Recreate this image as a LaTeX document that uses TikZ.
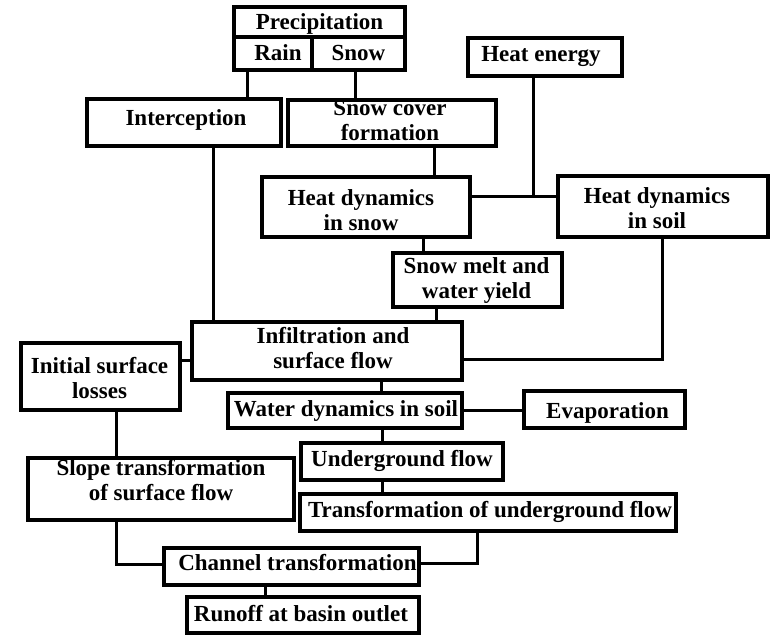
\documentclass[tikz,border=0pt]{standalone}
\usepackage{fontspec}
\setmainfont{Liberation Serif}
\tikzset{
  boxframe/.style={draw, line width=3.5pt, inner sep=0pt, outer sep=0pt},
  boxtext/.style={inner sep=0pt, outer sep=0pt, align=center,
    font=\fontsize{23}{25}\selectfont\bfseries},
  conn/.style={line width=3pt}
}
% name, x1, y1, x2, y2, dx, dy, text
\newcommand\mkbox[8]{%
  \node[boxframe, minimum width={#4-#2}, minimum height={#5-#3}] (#1) at ({(#2+#4)/2},{(#3+#5)/2}) {};
  \node[boxtext] (#1-t) at ([xshift=#6pt,yshift=-#7pt]#1.center) {#8};}
\begin{document}
\begin{tikzpicture}[x=1pt,y=-1pt]
\fill[white] (0,0) rectangle (771,635);
\useasboundingbox (0,0) rectangle (771,635);
\mkbox{prectop}{234}{7}{405}{37}{0}{2}{Precipitation}
\mkbox{rain}{234}{37}{312}{70}{5}{-1}{Rain}
\mkbox{snow}{312}{37}{405}{70}{0}{-1}{Snow}
\mkbox{icp}{87}{99}{281}{146}{2}{-3}{Interception}
\mkbox{scf}{288}{100}{496}{146}{-2}{-3}{Snow cover\\formation}
\mkbox{he}{468}{38}{622}{76}{-4}{0}{Heat energy}
\mkbox{hdsn}{262}{177}{470}{237}{-5}{3}{Heat dynamics\\in snow}
\mkbox{hdso}{558}{176}{768}{237}{-6}{1.5}{Heat dynamics\\in soil}
\mkbox{smw}{393}{253}{562}{307}{-1}{0}{Snow melt and\\water yield}
\mkbox{inf}{192}{322}{462}{380}{6}{-3}{Infiltration and\\surface flow}
\mkbox{isl}{21}{343}{180}{410}{-1}{1.5}{Initial surface\\losses}
\mkbox{wds}{228}{393}{462}{428}{1}{0}{Water dynamics in soil}
\mkbox{evp}{524}{391}{685}{428}{3}{3}{Evaporation}
\mkbox{ugf}{301}{443}{503}{480}{0}{-1}{Underground flow}
\mkbox{tuf}{300}{494}{676}{531}{2}{-1}{Transformation of underground flow}
\mkbox{stf}{28}{458}{294}{520}{0}{-9}{Slope transformation\\of surface flow}
\mkbox{cht}{164}{548}{419}{585}{6}{-3.5}{Channel transformation}
\mkbox{rbo}{187}{597}{419}{633}{-2}{-1}{Runoff at basin outlet}
% connectors
\draw[conn] (rain.south -| 247,0) -- (icp.north -| 247,0);
\draw[conn] (snow.south -| 355,0) -- (scf.north -| 355,0);
\draw[conn] (icp.south -| 213,0) -- (inf.north -| 213,0);
\draw[conn] (scf.south -| 434,0) -- (hdsn.north -| 434,0);
\coordinate (j) at (533,196);
\draw[conn] (he.south -| j) -- (j);
\draw[conn] (hdsn.east |- j) -- (hdso.west |- j);
\draw[conn] (hdsn.south -| 423,0) -- (smw.north -| 423,0);
\draw[conn] (smw.south -| 436,0) -- (inf.north -| 436,0);
\draw[conn] (hdso.south -| 662,0) -- (662,359) -- (inf.east |- 0,359);
\draw[conn] (isl.east |- 0,360) -- (inf.west |- 0,360);
\draw[conn] (inf.south -| 381,0) -- (wds.north -| 381,0);
\draw[conn] (wds.east |- 0,410) -- (evp.west |- 0,410);
\draw[conn] (wds.south -| 382,0) -- (ugf.north -| 382,0);
\draw[conn] (ugf.south -| 382,0) -- (tuf.north -| 382,0);
\draw[conn] (isl.south -| 116,0) -- (stf.north -| 116,0);
\draw[conn] (stf.south -| 116,0) -- (116,564) -- (cht.west |- 0,564);
\draw[conn] (tuf.south -| 477,0) -- (477,563) -- (cht.east |- 0,563);
\draw[conn] (cht.south -| 265,0) -- (rbo.north -| 265,0);
\end{tikzpicture}
\end{document}
